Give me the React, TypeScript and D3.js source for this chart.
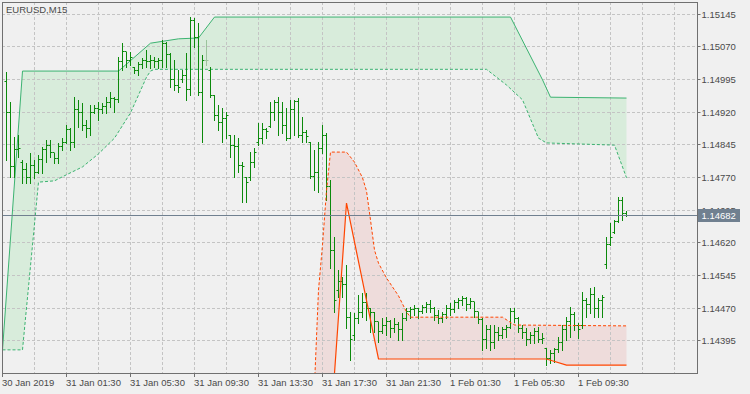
import React from 'react';
import * as d3 from 'd3';

const chartTitle = 'EURUSD,M15';
const firstBar = 1;

const opens = [
  1.14989, 1.1492, 1.14794, 1.14833, 1.14805, 1.14787, 1.14769, 1.14798, 1.14782, 1.1481,
  1.14833, 1.14844, 1.14826, 1.14814, 1.1484, 1.14851, 1.14879, 1.14851, 1.14925, 1.1492,
  1.1489, 1.14883, 1.1492, 1.14929, 1.14925, 1.14932, 1.14941, 1.14952, 1.14948, 1.15035,
  1.15058, 1.15039, 1.15023, 1.15016, 1.15028, 1.15039, 1.15035, 1.15039, 1.15035, 1.15039,
  1.15078, 1.15051, 1.14994, 1.14982, 1.14994, 1.15003, 1.14971, 1.15131, 1.1509, 1.14964,
  1.15039, 1.15016, 1.14959, 1.14913, 1.14895, 1.14906, 1.14867, 1.14844, 1.1484, 1.14798,
  1.14769, 1.14769, 1.14805, 1.14849, 1.1486, 1.14879, 1.14886, 1.14918, 1.14941, 1.1492,
  1.1489, 1.1486, 1.14925, 1.14943, 1.14867, 1.14872, 1.14851, 1.14771, 1.1478, 1.14837,
  1.14867, 1.14748, 1.14603, 1.14511, 1.1453, 1.14523, 1.14449, 1.14408, 1.14447, 1.14459,
  1.14482, 1.1447, 1.14459, 1.14438, 1.14417, 1.14431, 1.14438, 1.14424, 1.14433, 1.1442,
  1.14447, 1.14461, 1.14466, 1.14468, 1.14461, 1.14472, 1.14477, 1.1447, 1.14452, 1.14447,
  1.14454, 1.1447, 1.14466, 1.14482, 1.14488, 1.14491, 1.14477, 1.14484, 1.14461, 1.14443,
  1.14397, 1.1442, 1.1439, 1.14413, 1.14406, 1.1442, 1.14426, 1.14461, 1.14447, 1.14424,
  1.14413, 1.14397, 1.14406, 1.14415, 1.14397, 1.14378, 1.14355, 1.14365, 1.14374, 1.14392,
  1.1442, 1.14438, 1.14454, 1.14431, 1.14431, 1.14488, 1.14477, 1.145, 1.1447, 1.14488,
  1.14569, 1.14615, 1.14644, 1.14668, 1.14718, 1.14688,
];

const highs = [
  1.15012, 1.14943, 1.14863, 1.14867, 1.1481, 1.14803, 1.14826, 1.1481, 1.14821, 1.1484,
  1.14856, 1.14856, 1.14826, 1.14849, 1.1486, 1.1489, 1.14883, 1.14954, 1.14948, 1.14941,
  1.14902, 1.14936, 1.14936, 1.14943, 1.14941, 1.14954, 1.14966, 1.14954, 1.15046, 1.15078,
  1.15058, 1.15058, 1.15023, 1.15035, 1.15044, 1.15062, 1.15051, 1.15046, 1.15044, 1.15085,
  1.15081, 1.15056, 1.15039, 1.15016, 1.15016, 1.15056, 1.15138, 1.15136, 1.15124, 1.15051,
  1.15085, 1.15023, 1.14959, 1.14936, 1.14929, 1.1492, 1.14867, 1.14867, 1.1486, 1.14805,
  1.14771, 1.14828, 1.14837, 1.14895, 1.14895, 1.14883, 1.14943, 1.14948, 1.14954, 1.14943,
  1.14929, 1.14948, 1.14948, 1.14952, 1.14909, 1.14879, 1.14851, 1.14833, 1.14851, 1.1489,
  1.14872, 1.14764, 1.14633, 1.14557, 1.14541, 1.14569, 1.14461, 1.14459, 1.145, 1.14505,
  1.14505, 1.1447, 1.14461, 1.14438, 1.14447, 1.14449, 1.14443, 1.14447, 1.14438, 1.14459,
  1.1447, 1.14472, 1.14477, 1.1447, 1.14477, 1.14484, 1.14488, 1.14472, 1.14466, 1.14461,
  1.14477, 1.14482, 1.14488, 1.14493, 1.14498, 1.14495, 1.14493, 1.14484, 1.14461, 1.14447,
  1.14431, 1.14431, 1.14431, 1.14426, 1.14426, 1.14431, 1.1447, 1.1447, 1.14449, 1.14431,
  1.14424, 1.14415, 1.14424, 1.14426, 1.14413, 1.14378, 1.14374, 1.14378, 1.14404, 1.14431,
  1.14449, 1.14472, 1.14461, 1.14436, 1.14507, 1.14493, 1.14516, 1.14518, 1.14493, 1.145,
  1.14633, 1.14665, 1.14672, 1.14725, 1.14725, 1.14693,
];

const lows = [
  1.1481, 1.14771, 1.14771, 1.14817, 1.14757, 1.14757, 1.14757, 1.14769, 1.1478, 1.1478,
  1.14805, 1.14817, 1.14803, 1.14803, 1.14833, 1.14849, 1.14833, 1.1484, 1.14886, 1.14879,
  1.14863, 1.14867, 1.14918, 1.14902, 1.14918, 1.14918, 1.14932, 1.1492, 1.14943, 1.15016,
  1.15023, 1.15028, 1.1501, 1.15005, 1.15021, 1.15023, 1.15021, 1.15023, 1.15021, 1.15023,
  1.15023, 1.14977, 1.14971, 1.14966, 1.14989, 1.14948, 1.14959, 1.15069, 1.14959, 1.14851,
  1.15028, 1.14954, 1.14902, 1.14879, 1.14851, 1.1486, 1.14817, 1.14771, 1.14782, 1.14713,
  1.14713, 1.14764, 1.14794, 1.14844, 1.14849, 1.1486, 1.14886, 1.14902, 1.14867, 1.14872,
  1.14856, 1.1486, 1.14867, 1.14863, 1.14851, 1.14851, 1.14769, 1.14741, 1.14736, 1.14826,
  1.14718, 1.14562, 1.14461, 1.14495, 1.14495, 1.14424, 1.14351, 1.14397, 1.14436, 1.14449,
  1.14443, 1.14415, 1.14415, 1.14392, 1.14413, 1.14408, 1.14404, 1.14415, 1.14397, 1.14397,
  1.14443, 1.14447, 1.14454, 1.14447, 1.14459, 1.14461, 1.14461, 1.14443, 1.14436, 1.14438,
  1.14447, 1.14454, 1.14461, 1.1447, 1.14477, 1.14466, 1.1447, 1.14449, 1.14436, 1.14374,
  1.14378, 1.14374, 1.14378, 1.14397, 1.14401, 1.14404, 1.14424, 1.14438, 1.14415, 1.14401,
  1.14385, 1.1439, 1.1439, 1.14392, 1.1439, 1.14339, 1.14344, 1.14346, 1.14369, 1.14374,
  1.14397, 1.14404, 1.1442, 1.14401, 1.14424, 1.14449, 1.14459, 1.14449, 1.14449, 1.14449,
  1.14562, 1.14615, 1.14642, 1.14668, 1.14672, 1.14681,
];

const closes = [
  1.1492, 1.14794, 1.14833, 1.14837, 1.14787, 1.14769, 1.14798, 1.14782, 1.1481, 1.14833,
  1.14844, 1.14826, 1.14814, 1.1484, 1.14851, 1.14879, 1.14851, 1.14925, 1.1492, 1.1489,
  1.14883, 1.1492, 1.14929, 1.14925, 1.14932, 1.14941, 1.14952, 1.14948, 1.15035, 1.15058,
  1.15039, 1.15044, 1.15016, 1.15028, 1.15039, 1.15035, 1.15039, 1.15035, 1.15039, 1.15078,
  1.15051, 1.14994, 1.14982, 1.14977, 1.15003, 1.14971, 1.15131, 1.1509, 1.14964, 1.15039,
  1.15039, 1.14959, 1.14913, 1.14895, 1.14906, 1.14913, 1.14844, 1.1484, 1.14798, 1.14794,
  1.14759, 1.14805, 1.14828, 1.1486, 1.14879, 1.14876, 1.14918, 1.14941, 1.1492, 1.1489,
  1.1486, 1.14925, 1.14943, 1.14867, 1.14872, 1.14863, 1.14771, 1.1478, 1.14837, 1.14867,
  1.14748, 1.14603, 1.14488, 1.1453, 1.14523, 1.14449, 1.14397, 1.14447, 1.14459, 1.14482,
  1.1447, 1.14459, 1.14438, 1.14417, 1.14431, 1.14438, 1.14424, 1.14433, 1.1442, 1.14447,
  1.14461, 1.14466, 1.14468, 1.14461, 1.14472, 1.14477, 1.1447, 1.14452, 1.14447, 1.14454,
  1.1447, 1.14466, 1.14482, 1.14488, 1.14491, 1.14477, 1.14484, 1.14461, 1.14443, 1.14397,
  1.1442, 1.1439, 1.14413, 1.14406, 1.1442, 1.14426, 1.14461, 1.14447, 1.14424, 1.14413,
  1.14397, 1.14406, 1.14415, 1.14397, 1.14401, 1.14355, 1.14365, 1.14374, 1.14392, 1.1442,
  1.14438, 1.14454, 1.14431, 1.1442, 1.14488, 1.14477, 1.145, 1.1447, 1.14488, 1.14495,
  1.14615, 1.14631, 1.14668, 1.14718, 1.14688, 1.14682,
];

// indicator lines: [bar index, price]
const greenUpper: [number, number][] = [
  [0, 1.14374], [5, 1.15014], [29, 1.15014], [37, 1.15078], [44, 1.15088], [49, 1.1509],
  [53, 1.15138], [127, 1.15138], [135, 1.14994], [137, 1.14954], [156, 1.14952],
];
const greenLower: [number, number][] = [
  [0, 1.14374], [5, 1.14374], [9, 1.14759], [13, 1.14762], [16, 1.14776], [20, 1.14794],
  [24, 1.14824], [28, 1.1486], [32, 1.14918], [34, 1.14959], [36, 1.15], [37, 1.15014],
  [38, 1.15018], [121, 1.15018], [126, 1.14982], [130, 1.14948], [134, 1.1486],
  [136, 1.14849], [153, 1.14844], [156, 1.14769],
];
const redUpper: [number, number][] = [
  [78, 1.14293], [79, 1.14511], [80, 1.14615], [81, 1.14739], [82, 1.14828], [86, 1.14828],
  [88, 1.14805], [90, 1.14769], [91, 1.14739], [92, 1.14672], [93, 1.14603], [94, 1.14573],
  [96, 1.14539], [99, 1.14498], [101, 1.14461], [102, 1.14449], [125, 1.14449],
  [128, 1.14431], [156, 1.14429],
];
const redLower: [number, number][] = [
  [78, 1.14], [82, 1.1419], [86, 1.14711], [94, 1.14353], [136, 1.14353], [141, 1.14339],
  [156, 1.14339],
];

const priceTicks = [1.15145, 1.1507, 1.14995, 1.1492, 1.14845, 1.1477, 1.14695, 1.1462, 1.14545, 1.1447, 1.14395];
const timeTickBars = [0, 16, 32, 48, 64, 80, 96, 112, 128, 144];
const timeTickLabels = [
  '30 Jan 2019', '31 Jan 01:30', '31 Jan 05:30', '31 Jan 09:30', '31 Jan 13:30',
  '31 Jan 17:30', '31 Jan 21:30', '1 Feb 01:30', '1 Feb 05:30', '1 Feb 09:30',
];
const currentPrice = 1.14682;

const W = 750;
const H = 394;
const plot = { left: 2, top: 2, right: 697, bottom: 373 };
const FONT = '"Liberation Sans", Arial, sans-serif';
const TEXT = '#4a4a4a';
const BAR = '#0c8a0c';
const DOJI = '#9cc39c';
const GREEN_LINE = '#3cb371';
const GREEN_FILL = '#d8ecdb';
const RED_LINE = '#ff4500';
const RED_FILL = '#eedcdb';
const GRID = '#c4c4c4';
const FRAME = '#707070';
const PRICE_LINE = '#708090';

export default function App() {
  const x = d3.scaleLinear().domain([0, 100]).range([2.5, 402.5]);
  const y = d3.scaleLinear().domain([1.14395, 1.15145]).range([340.7, 14]);
  const snap = (v: number) => Math.round(v - 0.5) + 0.5;

  const line = d3
    .line<[number, number]>()
    .x((d) => x(d[0]))
    .y((d) => y(d[1]));

  const greenPoly = line([...greenUpper, ...greenLower.slice().reverse()]) + 'Z';
  const redPoly = line([...redUpper, ...redLower.slice().reverse()]) + 'Z';

  const gridBars = d3.range(8, 176, 8);
  const bars = opens.map((o, i) => ({
    k: firstBar + i,
    o,
    h: highs[i],
    l: lows[i],
    c: closes[i],
  }));

  return (
    <svg
      width={W}
      height={H}
      style={{ position: 'absolute', left: 0, top: 0, display: 'block' }}
      fontFamily={FONT}
    >
      <rect x={0} y={0} width={W} height={H} fill="#f0f0f0" />
      <defs>
        <clipPath id="plotClip">
          <rect x={plot.left + 1} y={plot.top + 1} width={plot.right - plot.left - 1} height={plot.bottom - plot.top - 1} />
        </clipPath>
      </defs>

      <g clipPath="url(#plotClip)">
        <path d={greenPoly} fill={GREEN_FILL} stroke="none" />
        <path d={redPoly} fill={RED_FILL} stroke="none" />

        {priceTicks.map((p) => (
          <line key={'hg' + p} x1={plot.left} x2={plot.right} y1={snap(y(p))} y2={snap(y(p))} stroke={GRID} strokeDasharray="3,2" />
        ))}
        {gridBars.map((b) => (
          <line key={'vg' + b} x1={x(b)} x2={x(b)} y1={plot.top} y2={plot.bottom} stroke={GRID} strokeDasharray="3,2" />
        ))}

        <path d={line(greenUpper) || ''} fill="none" stroke={GREEN_LINE} strokeWidth={1} />
        <path d={line(greenLower) || ''} fill="none" stroke={GREEN_LINE} strokeWidth={1} strokeDasharray="3,2" />

        {bars.map((b) => {
          const cx = x(b.k);
          const col = b.o === b.c ? DOJI : BAR;
          return (
            <g key={'b' + b.k} stroke={col} strokeWidth={1}>
              <line x1={cx} x2={cx} y1={Math.round(y(b.h))} y2={Math.round(y(b.l)) + 1} />
              <line x1={cx - 2} x2={cx} y1={snap(y(b.o))} y2={snap(y(b.o))} />
              <line x1={cx} x2={cx + 2} y1={snap(y(b.c))} y2={snap(y(b.c))} />
            </g>
          );
        })}

        <path d={line(redUpper) || ''} fill="none" stroke={RED_LINE} strokeWidth={1} strokeDasharray="3,2" />
        <path d={line(redLower) || ''} fill="none" stroke={RED_LINE} strokeWidth={1.2} />

        <line x1={plot.left} x2={plot.right} y1={snap(y(currentPrice))} y2={snap(y(currentPrice))} stroke={PRICE_LINE} strokeWidth={1} />
      </g>

      {/* frame */}
      <rect x={plot.left + 0.5} y={plot.top + 0.5} width={plot.right - plot.left} height={plot.bottom - plot.top} fill="none" stroke={FRAME} />

      <text x={6} y={12.5} fontSize={9.5} fill={TEXT}>{chartTitle}</text>

      {/* price axis */}
      {priceTicks.map((p) => (
        <g key={'pt' + p}>
          <line x1={plot.right} x2={plot.right + 3.5} y1={snap(y(p))} y2={snap(y(p))} stroke={FRAME} />
          <text x={plot.right + 4.5} y={snap(y(p)) + 3.5} fontSize={9.5} fill={TEXT}>{p.toFixed(5)}</text>
        </g>
      ))}
      <rect x={698} y={snap(y(currentPrice)) - 6.5} width={42} height={13} fill={PRICE_LINE} />
      <text x={701.5} y={snap(y(currentPrice)) + 3.5} fontSize={9.5} fill="#ffffff">{currentPrice.toFixed(5)}</text>

      {/* time axis */}
      {timeTickBars.map((b, i) => (
        <g key={'tt' + b}>
          <line x1={x(b)} x2={x(b)} y1={plot.bottom} y2={plot.bottom + 4} stroke={FRAME} />
          <text x={x(b) - 0.5} y={386} fontSize={9.5} fill={TEXT}>{timeTickLabels[i]}</text>
        </g>
      ))}
    </svg>
  );
}
